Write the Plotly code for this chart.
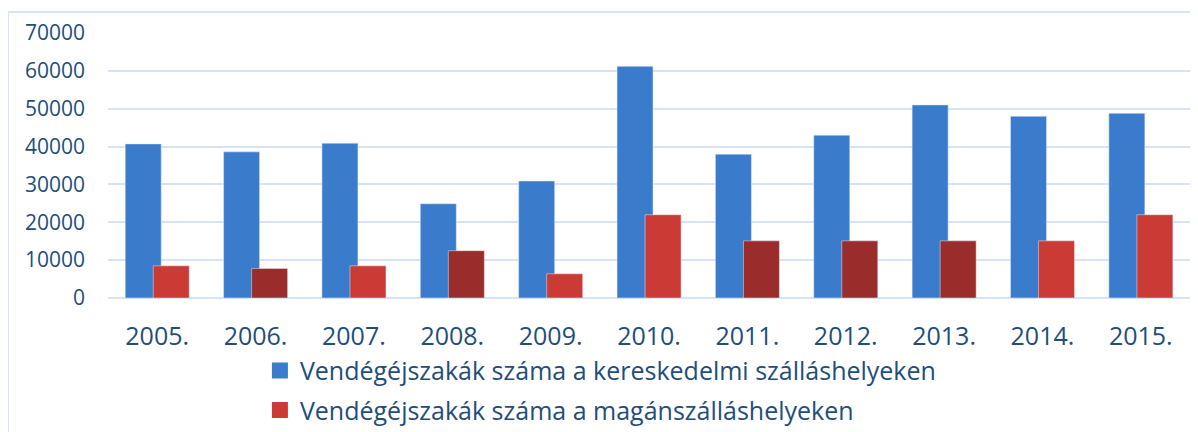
import plotly.graph_objects as go

years = ["2005.", "2006.", "2007.", "2008.", "2009.", "2010.", "2011.", "2012.", "2013.", "2014.", "2015."]
kereskedelmi = [40700, 38600, 40900, 24900, 30900, 61200, 38000, 43000, 51000, 48000, 48800]
magan = [8500, 7800, 8500, 12500, 6400, 22000, 15100, 15100, 15100, 15100, 22000]
magan_colors = ["#CC3A36", "#9A2D2C", "#CC3A36", "#9A2D2C", "#CC3A36", "#CC3A36",
                "#9A2D2C", "#9A2D2C", "#9A2D2C", "#CC3A36", "#CC3A36"]
name_k = "Vendégéjszakák száma a kereskedelmi szálláshelyeken"
name_m = "Vendégéjszakák száma a magánszálláshelyeken"

BLUE = "#3A7CCB"
RED = "#CC3A36"
TEXT = "#1F4E79"
GRID = "#D7E3F3"
FONT = "Open Sans"

fig = go.Figure()
fig.add_trace(go.Bar(x=years, y=kereskedelmi, marker_color=BLUE, width=0.366, offset=-0.325,
                     showlegend=False, name=name_k))
fig.add_trace(go.Bar(x=years, y=magan, marker_color=magan_colors, width=0.366, offset=-0.04,
                     showlegend=False, name=name_m))
# legend entries
fig.add_trace(go.Scatter(x=[None], y=[None], mode="markers", name=name_k, legendgroup="a",
                         marker=dict(symbol="square", size=16, color=BLUE)))
fig.add_trace(go.Scatter(x=[None], y=[None], mode="markers", name=name_m, legendgroup="b",
                         marker=dict(symbol="square", size=16, color=RED)))

fig.update_layout(
    width=1190, height=424,
    margin=dict(l=100, r=8, t=25, b=134, autoexpand=False),
    paper_bgcolor="white", plot_bgcolor="white",
    barmode="overlay",
    font=dict(family=FONT, color=TEXT),
    legend=dict(x=0.1404, y=-0.1875, xanchor="left", yanchor="top", orientation="v",
                font=dict(size=25, color=TEXT, family=FONT), tracegroupgap=4,
                bgcolor="rgba(0,0,0,0)", itemwidth=30),
    shapes=[
        dict(type="line", xref="paper", yref="paper", x0=-0.0924, x1=-0.0924, y0=-0.6, y1=1.079,
             line=dict(color=GRID, width=2)),
        dict(type="line", xref="paper", yref="paper", x0=-0.0924, x1=1.02, y0=1.079, y1=1.079,
             line=dict(color=GRID, width=2)),
    ],
)
fig.update_xaxes(showgrid=False, showline=False, zeroline=False, ticks="", automargin=False,
                 tickfont=dict(size=25, color=TEXT, family=FONT), ticklabelstandoff=21)
fig.update_yaxes(range=[0, 70000], dtick=10000, showgrid=True, gridcolor=GRID, gridwidth=2,
                 zeroline=True, zerolinecolor=GRID, zerolinewidth=2, showline=False, automargin=False,
                 tickformat="d", tickfont=dict(size=21, color=TEXT, family=FONT),
                 ticklabelstandoff=22)

fig.write_html("out.html")
